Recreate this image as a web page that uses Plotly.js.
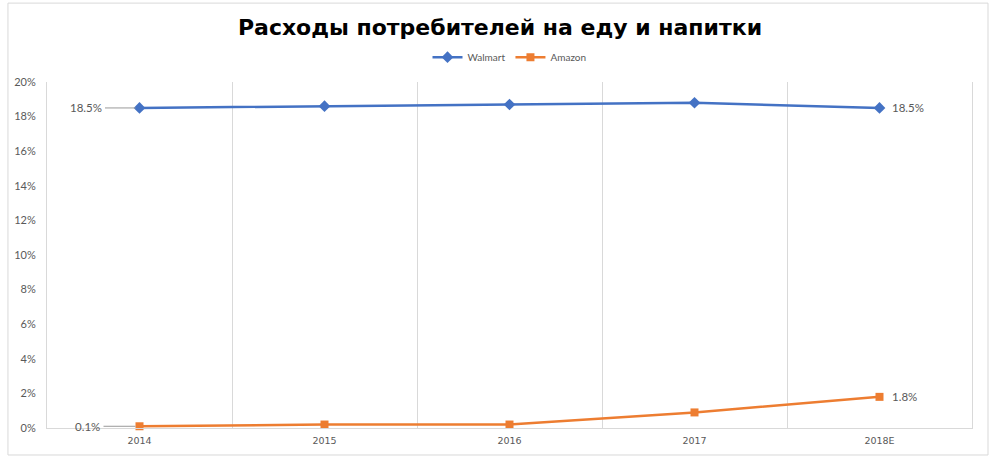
<!DOCTYPE html>
<html>
<head>
<meta charset="utf-8">
<script src="https://cdn.plot.ly/plotly-3.0.1.min.js"></script>
<style>html,body{margin:0;padding:0;background:#fff;}#chart{width:1000px;height:465px;}</style>
</head>
<body>
<div id="chart"></div>
<script>
var categories = ["2014", "2015", "2016", "2017", "2018E"];
var walmart = [0.185, 0.186, 0.187, 0.188, 0.185];
var amazon = [0.001, 0.002, 0.002, 0.009, 0.018];
var seriesNames = ["Walmart", "Amazon"];
var titleText = "Расходы потребителей на еду и напитки";

var labelFont = {family: "Lato, 'Liberation Sans', sans-serif", size: 11.5, color: "#595959"};

var traces = [
  {x: categories, y: walmart, name: seriesNames[0], type: "scatter", mode: "lines+markers",
   line: {color: "#4472C4", width: 2.5}, marker: {symbol: "diamond", size: 9, color: "#4472C4"}, cliponaxis: false},
  {x: categories, y: amazon, name: seriesNames[1], type: "scatter", mode: "lines+markers",
   line: {color: "#ED7D31", width: 2.5}, marker: {symbol: "square", size: 8, color: "#ED7D31"}, cliponaxis: false}
];

function pct(v){ return (v*100).toFixed(1) + "%"; }
var last = categories.length - 1;
// category axes take the category's serial number for annotation positions
var annotations = [
  {x: 0, y: walmart[0], xref: "x", yref: "y", text: pct(walmart[0]), showarrow: true, borderpad: 3,
   ax: -54, ay: 0, arrowhead: 0, arrowwidth: 1, arrowcolor: "#999999", standoff: 4, font: labelFont},
  {x: 0, y: amazon[0], xref: "x", yref: "y", text: pct(amazon[0]), showarrow: true, borderpad: 3,
   ax: -52, ay: 0, arrowhead: 0, arrowwidth: 1, arrowcolor: "#999999", standoff: 4, font: labelFont},
  {x: last, y: walmart[last], xref: "x", yref: "y", text: pct(walmart[last]), showarrow: false,
   xanchor: "left", xshift: 10, font: labelFont},
  {x: last, y: amazon[last], xref: "x", yref: "y", text: pct(amazon[last]), showarrow: false,
   xanchor: "left", xshift: 10, font: labelFont}
];

var layout = {
  width: 1000, height: 465,
  margin: {l: 47, r: 28, t: 82, b: 37},
  paper_bgcolor: "#ffffff", plot_bgcolor: "#ffffff",
  title: {text: "<b>" + titleText + "</b>", font: {family: "'DejaVu Sans', sans-serif", size: 22, color: "#000000"},
          x: 0.5, xanchor: "center", y: 0.942, yref: "container", yanchor: "middle"},
  showlegend: true,
  legend: {orientation: "h", x: 0.5, xanchor: "center", y: 0.877, yref: "container", yanchor: "middle",
           itemwidth: 30, font: {family: "Lato, 'Liberation Sans', sans-serif", size: 10, color: "#595959"}},
  xaxis: {type: "category", range: [-0.5, 4.5], tickson: "boundaries", showgrid: true, gridcolor: "#d9d9d9", gridwidth: 1,
          showline: true, linecolor: "#d9d9d9", linewidth: 1, ticks: "", ticklabelstandoff: 4, fixedrange: true,
          tickfont: {family: "'DejaVu Sans', sans-serif", size: 9.5, color: "#595959"}},
  yaxis: {range: [0, 0.2], dtick: 0.02, tickformat: ".0%", showgrid: false, zeroline: false,
          showline: true, mirror: true, linecolor: "#d9d9d9", linewidth: 1, ticks: "", ticklabelstandoff: 8,
          tickfont: {family: "Lato, 'Liberation Sans', sans-serif", size: 11, color: "#595959"}},
  annotations: annotations,
  shapes: [
    {type: "rect", xref: "paper", yref: "paper", x0: -0.0422, x1: 1.0173, y0: -0.078, y1: 1.228,
     line: {color: "#d9d9d9", width: 1}, fillcolor: "rgba(0,0,0,0)", layer: "below"}
  ]
};

Plotly.newPlot("chart", traces, layout, {displayModeBar: false, staticPlot: true});
</script>
</body>
</html>
